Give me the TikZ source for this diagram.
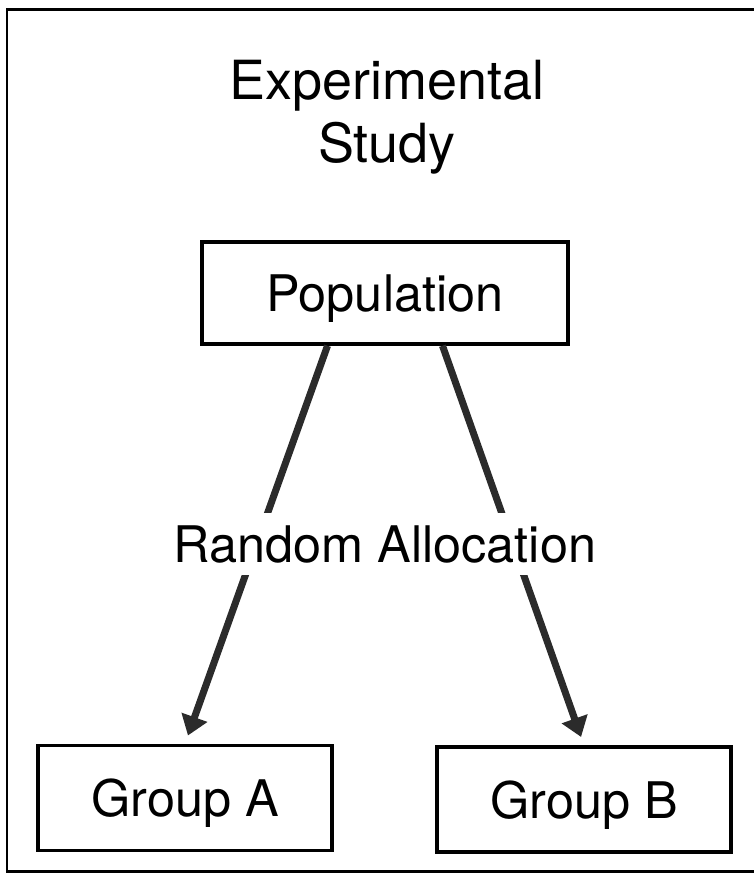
\documentclass[tikz,border=0pt]{standalone}
\usepackage{fontspec}
\setmainfont{TeX Gyre Heros}
\usetikzlibrary{arrows.meta}
\definecolor{arrowgray}{HTML}{2B2B2B}
\tikzset{
  box/.style={draw, line width=2pt, minimum width=5.88cm, minimum height=2.1cm,
              font=\fontsize{28.7}{34}\selectfont, text depth=0pt, inner sep=0pt},
  popbox/.style={box, minimum width=7.32cm, minimum height=2.04cm},
  alloc/.style={line width=4pt, arrowgray, shorten >=5pt,
                -{Triangle[length=11pt,width=15pt]}},
  frameline/.style={line width=1.2pt},
}
\begin{document}
\begin{tikzpicture}
    \useasboundingbox (0,0) rectangle (15.08,-17.46);
    \draw[frameline] (15.08,-0.19) -- (0.14,-0.19) -- (0.14,-17.43) -- (15.08,-17.43);
    \node[anchor=north, align=center, inner sep=0pt,
          font=\fontsize{30.7}{35.9}\selectfont] (title) at (7.74,-1.2) {Experimental\\Study};
    \node[popbox] (pop) at (7.70,-5.86) {Population};
    \node[box] (ga) at (3.70,-15.96) {Group A};
    \node[box] (gb) at (11.68,-15.99) {Group B};
    \coordinate (pa) at ([xshift=-1.15cm]pop.south);
    \coordinate (pb) at ([xshift=1.15cm]pop.south);
    \draw[alloc] (pa) -- (ga.north);
    \draw[alloc] (pb) -- (gb.north);
    \node[anchor=base, fill=white, inner xsep=2pt, inner ysep=7pt,
          font=\fontsize{28.7}{34}\selectfont] (rand) at (7.70,-11.24) {Random Allocation};
  \end{tikzpicture}
\end{document}
